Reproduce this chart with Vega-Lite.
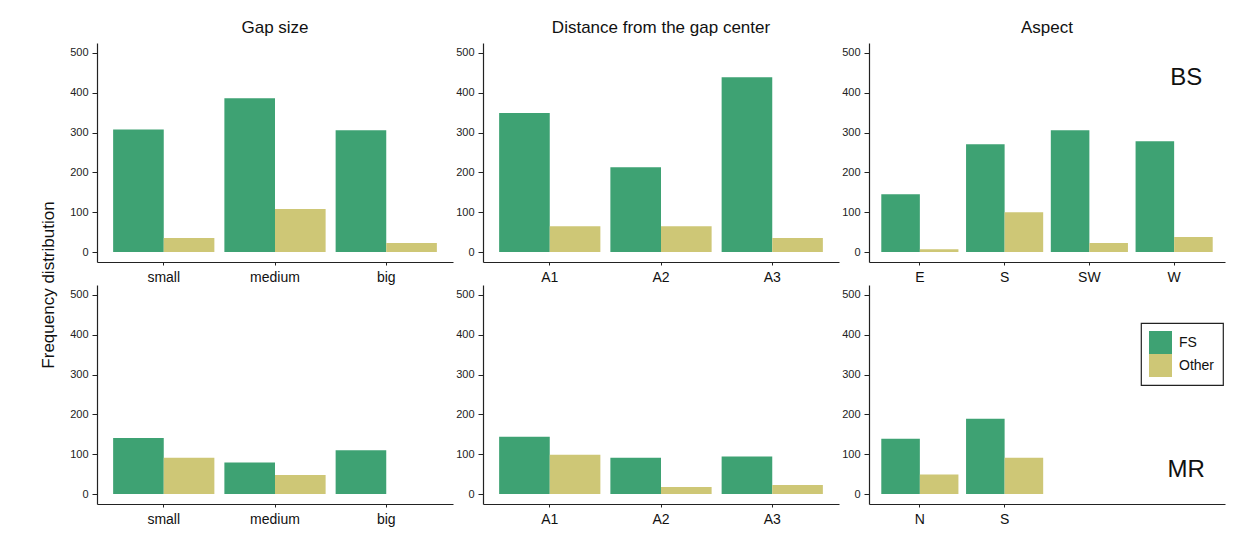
{
  "$schema": "https://vega.github.io/schema/vega-lite/v6.json",
  "padding": {"left": 39, "top": 19, "right": 5, "bottom": 5},
  "background": "white",
  "data": {"values": [
    {"site": "BS", "factor": "Gap size", "cat": "small", "group": "FS", "n": 308},
    {"site": "BS", "factor": "Gap size", "cat": "small", "group": "Other", "n": 35},
    {"site": "BS", "factor": "Gap size", "cat": "medium", "group": "FS", "n": 386},
    {"site": "BS", "factor": "Gap size", "cat": "medium", "group": "Other", "n": 108},
    {"site": "BS", "factor": "Gap size", "cat": "big", "group": "FS", "n": 306},
    {"site": "BS", "factor": "Gap size", "cat": "big", "group": "Other", "n": 23},
    {"site": "BS", "factor": "Distance from the gap center", "cat": "A1", "group": "FS", "n": 349},
    {"site": "BS", "factor": "Distance from the gap center", "cat": "A1", "group": "Other", "n": 65},
    {"site": "BS", "factor": "Distance from the gap center", "cat": "A2", "group": "FS", "n": 213},
    {"site": "BS", "factor": "Distance from the gap center", "cat": "A2", "group": "Other", "n": 65},
    {"site": "BS", "factor": "Distance from the gap center", "cat": "A3", "group": "FS", "n": 439},
    {"site": "BS", "factor": "Distance from the gap center", "cat": "A3", "group": "Other", "n": 35},
    {"site": "BS", "factor": "Aspect", "cat": "E", "group": "FS", "n": 145},
    {"site": "BS", "factor": "Aspect", "cat": "E", "group": "Other", "n": 7},
    {"site": "BS", "factor": "Aspect", "cat": "S", "group": "FS", "n": 271},
    {"site": "BS", "factor": "Aspect", "cat": "S", "group": "Other", "n": 100},
    {"site": "BS", "factor": "Aspect", "cat": "SW", "group": "FS", "n": 306},
    {"site": "BS", "factor": "Aspect", "cat": "SW", "group": "Other", "n": 23},
    {"site": "BS", "factor": "Aspect", "cat": "W", "group": "FS", "n": 278},
    {"site": "BS", "factor": "Aspect", "cat": "W", "group": "Other", "n": 38},
    {"site": "MR", "factor": "Gap size", "cat": "small", "group": "FS", "n": 141},
    {"site": "MR", "factor": "Gap size", "cat": "small", "group": "Other", "n": 91},
    {"site": "MR", "factor": "Gap size", "cat": "medium", "group": "FS", "n": 79},
    {"site": "MR", "factor": "Gap size", "cat": "medium", "group": "Other", "n": 48},
    {"site": "MR", "factor": "Gap size", "cat": "big", "group": "FS", "n": 110},
    {"site": "MR", "factor": "Gap size", "cat": "big", "group": "Other", "n": 0},
    {"site": "MR", "factor": "Distance from the gap center", "cat": "A1", "group": "FS", "n": 144},
    {"site": "MR", "factor": "Distance from the gap center", "cat": "A1", "group": "Other", "n": 99},
    {"site": "MR", "factor": "Distance from the gap center", "cat": "A2", "group": "FS", "n": 91},
    {"site": "MR", "factor": "Distance from the gap center", "cat": "A2", "group": "Other", "n": 18},
    {"site": "MR", "factor": "Distance from the gap center", "cat": "A3", "group": "FS", "n": 94},
    {"site": "MR", "factor": "Distance from the gap center", "cat": "A3", "group": "Other", "n": 23},
    {"site": "MR", "factor": "Aspect", "cat": "N", "group": "FS", "n": 139},
    {"site": "MR", "factor": "Aspect", "cat": "N", "group": "Other", "n": 49},
    {"site": "MR", "factor": "Aspect", "cat": "S", "group": "FS", "n": 189},
    {"site": "MR", "factor": "Aspect", "cat": "S", "group": "Other", "n": 91},
    {"site": "MR", "factor": "Aspect", "cat": "_3", "group": "FS", "n": 0},
    {"site": "MR", "factor": "Aspect", "cat": "_4", "group": "FS", "n": 0},
    {"site": "BS", "factor": "Aspect", "cat": "W", "tag": "BS", "ty": 436},
    {"site": "MR", "factor": "Aspect", "cat": "_4", "tag": "MR", "ty": 60}
  ]},
  "facet": {
    "row": {"field": "site", "type": "nominal", "sort": ["BS", "MR"], "title": "Frequency distribution",
      "header": {"labels": false, "titleFontSize": 17, "titleFontWeight": "normal", "titleColor": "#111", "titlePadding": 29}},
    "column": {"field": "factor", "type": "nominal", "sort": ["Gap size", "Distance from the gap center", "Aspect"], "title": null,
      "header": {"labelFontSize": 17, "labelColor": "#111", "labelPadding": 6}}
  },
  "spacing": {"row": 23, "column": 30},
  "bounds": "flush",
  "spec": {
    "width": 356,
    "height": 219,
    "layer": [
      {
        "transform": [{"filter": "isValid(datum.n)"}],
        "mark": {"type": "bar"},
        "encoding": {
          "x": {"field": "cat", "type": "nominal",
            "sort": ["small", "medium", "big", "A1", "A2", "A3", "E", "N", "S", "SW", "W", "_3", "_4"],
            "scale": {"paddingInner": 0.09, "paddingOuter": 0.145},
            "axis": {"title": null, "labelAngle": 0, "labelFontSize": 14, "labelColor": "#111", "tickSize": 3, "labelPadding": 5,
              "labelExpr": "indexof(datum.value, '_') == 0 ? '' : datum.value",
              "tickOpacity": {"condition": {"test": "indexof(datum.value, '_') == 0", "value": 0}, "value": 1}}},
          "xOffset": {"field": "group", "type": "nominal", "sort": ["FS", "Other"]},
          "y": {"field": "n", "type": "quantitative", "stack": null,
            "scale": {"domain": [-25, 525], "nice": false, "zero": false},
            "axis": {"title": null, "values": [0, 100, 200, 300, 400, 500], "labelFontSize": 11, "labelColor": "#222", "tickSize": 5, "labelPadding": 4, "grid": false}},
          "color": {"field": "group", "type": "nominal", "sort": ["FS", "Other"],
            "scale": {"domain": ["FS", "Other"], "range": ["#3ea273", "#cec776"]},
            "legend": {"title": null, "orient": "none", "legendX": 1044, "legendY": 280}}
        }
      },
      {
        "transform": [{"filter": "datum.tag != null"}],
        "mark": {"type": "text", "fontSize": 24, "dx": 12, "baseline": "middle", "align": "center", "color": "#111"},
        "encoding": {
          "x": {"field": "cat", "type": "nominal",
            "sort": ["small", "medium", "big", "A1", "A2", "A3", "E", "N", "S", "SW", "W", "_3", "_4"]},
          "y": {"field": "ty", "type": "quantitative"},
          "text": {"field": "tag"}
        }
      }
    ]
  },
  "resolve": {"scale": {"x": "independent", "xOffset": "independent"}, "axis": {"x": "independent", "y": "independent"}},
  "config": {
    "font": "Liberation Sans",
    "view": {"stroke": null},
    "axis": {"domainColor": "#222", "tickColor": "#222", "domainWidth": 1.2},
    "legend": {"symbolType": "square", "symbolSize": 529, "symbolStrokeWidth": 0, "labelFontSize": 14, "labelColor": "#111",
      "strokeColor": "#222", "strokeWidth": 1.2, "padding": 8, "rowPadding": 0, "labelOffset": 7, "fillColor": "white"}
  }
}
